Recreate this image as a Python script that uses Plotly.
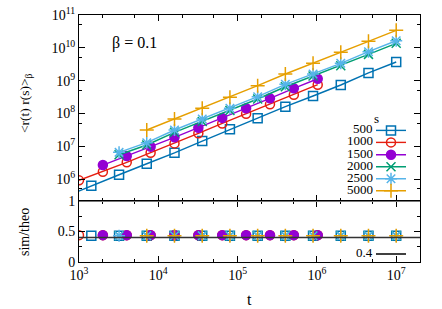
import plotly.graph_objects as go

# ---------------- data ----------------
t_a = [640, 1430, 3200, 7150, 16000, 35800, 80000, 179000, 400000, 894000, 2000000, 4470000, 10000000]
t_b = [1000, 2000, 4000, 8000, 16000, 32000, 64000, 128000, 256000, 512000, 1024000]

series_names = ["500", "1000", "1500", "2000", "2500", "5000"]

t_500 = t_a
y_500 = [2.8e5, 6.25e5, 1.35e6, 2.92e6, 6.3e6, 1.44e7, 3.27e7, 7.1e7, 1.6e8, 3.39e8, 7.35e8, 1.71e9, 3.69e9]
t_1000 = t_b
y_1000 = [9.1e5, 1.67e6, 3.23e6, 6.34e6, 1.22e7, 2.47e7, 4.95e7, 9.8e7, 1.89e8, 3.71e8, 7.5e8]
t_1500 = t_b[1:]
y_1500 = [2.67e6, 5.0e6, 9.7e6, 1.87e7, 3.66e7, 7.3e7, 1.43e8, 2.88e8, 5.8e8, 1.14e9]
t_2000 = t_a[2:]
y_2000 = [5.5e6, 1.09e7, 2.65e7, 5.7e7, 1.22e8, 2.75e8, 6.5e8, 1.38e9, 2.85e9, 6.3e9, 1.37e10]
t_2500 = t_a[2:]
y_2500 = [6.5e6, 1.28e7, 3.12e7, 6.75e7, 1.43e8, 3.23e8, 7.7e8, 1.59e9, 3.37e9, 7.6e9, 1.64e10]
t_5000 = t_a[3:]
y_5000 = [3.12e7, 6.75e7, 1.43e8, 3.1e8, 7.0e8, 1.59e9, 3.37e9, 7.3e9, 1.58e10, 3.42e10]

# ratio sim/theo (lower panel)
rt_500 = t_a[1:]
r_500 = [0.43, 0.43, 0.43, 0.43, 0.43, 0.43, 0.43, 0.43, 0.43, 0.43, 0.43, 0.43]
rt_1000 = t_b
r_1000 = [0.44, 0.44, 0.44, 0.44, 0.44, 0.44, 0.44, 0.44, 0.44, 0.44, 0.44]
rt_1500 = t_b[1:]
r_1500 = [0.44, 0.44, 0.44, 0.44, 0.44, 0.44, 0.44, 0.44, 0.44, 0.44]
rt_2000 = t_a[2:]
r_2000 = [0.43, 0.43, 0.43, 0.43, 0.43, 0.43, 0.43, 0.43, 0.43, 0.43, 0.43]
rt_2500 = t_a[2:]
r_2500 = [0.43, 0.43, 0.43, 0.43, 0.43, 0.43, 0.43, 0.43, 0.43, 0.43, 0.43]
rt_5000 = t_a[3:]
r_5000 = [0.43, 0.43, 0.43, 0.43, 0.43, 0.43, 0.43, 0.43, 0.43, 0.43]

ref_level = 0.4
unit_level = 1.0
beta_text = "β = 0.1"

x_tick_exps = [3, 4, 5, 6, 7]
y_tick_exps = [6, 7, 8, 9, 10, 11]
ratio_ticks = [0, 0.5, 1]
ratio_ticktext = ["0", "0.5", "1"]

# ---------------- styles ----------------
colors = ["#0072b2", "#e51e10", "#9400d3", "#009e73", "#56b4e9", "#e69f00"]
symbols = ["square-open", "circle-open", "circle", "x-thin-open", "asterisk-open", "cross-thin-open"]
msizes = [9, 9, 9, 9, 10, 10]
FONT = "Liberation Serif"

main = [(t_500, y_500), (t_1000, y_1000), (t_1500, y_1500),
        (t_2000, y_2000), (t_2500, y_2500), (t_5000, y_5000)]
ratio = [(rt_500, r_500), (rt_1000, r_1000), (rt_1500, r_1500),
         (rt_2000, r_2000), (rt_2500, r_2500), (rt_5000, r_5000)]

fig = go.Figure()

# canvas geometry (pixels of the 442x309 canvas)
L, R, T, B = 79, 22, 15, 47
W, H = 442 - L - R, 309 - T - B
def px(x):
    return (x - L) / W
def py(y):
    return 1 - (y - T) / H

legend_rows = [128.7, 140.7, 153.0, 165.0, 177.0, 189.0]
ref_row = 252.3
legend_shift = -1.7
legend_x = px(416)
label_x = px(375)

for i, ((tx, ty), c, sym, ms) in enumerate(zip(main, colors, symbols, msizes)):
    lg = "legend" if i == 0 else "legend%d" % (i + 1)
    fig.add_trace(go.Scatter(
        x=tx, y=ty, mode="lines+markers", name="",
        line=dict(color=c, width=1.4),
        marker=dict(symbol=sym, size=ms, color=c, line=dict(color=c, width=1.5)),
        xaxis="x", yaxis="y", legend=lg, showlegend=True))

for (tx, rv), c, sym, ms in zip(ratio, colors, symbols, msizes):
    fig.add_trace(go.Scatter(
        x=tx, y=rv, mode="markers", showlegend=False,
        marker=dict(symbol=sym, size=ms, color=c, line=dict(color=c, width=1.5)),
        xaxis="x2", yaxis="y2"))

# horizontal reference lines on the lower panel
fig.add_hline(y=unit_level, line=dict(color="#777777", width=2), xref="x2", yref="y2")
fig.add_hline(y=ref_level, line=dict(color="#333333", width=1.5), xref="x2", yref="y2")
# legend entry for the 0.4 line
fig.add_trace(go.Scatter(x=[None], y=[None], mode="lines", name="",
                         line=dict(color="black", width=1.5),
                         xaxis="x2", yaxis="y2", legend="legend7", showlegend=True))

legend_common = dict(bgcolor="rgba(0,0,0,0)", borderwidth=0, xanchor="right",
                     yanchor="middle", font=dict(family=FONT, size=12), itemwidth=30)
legends = {}
for i, yr in enumerate(legend_rows):
    key = "legend" if i == 0 else "legend%d" % (i + 1)
    legends[key] = dict(legend_common, x=legend_x, y=py(yr - legend_shift))
legends["legend7"] = dict(legend_common, x=legend_x, y=py(ref_row - legend_shift))

annotations = []
annotations.append(dict(text="s", x=px(376), y=py(118), xref="paper", yref="paper",
                        showarrow=False, xanchor="center", yanchor="middle",
                        font=dict(family=FONT, size=13)))
for name, yr in zip(series_names, legend_rows):
    annotations.append(dict(text=name, x=label_x, y=py(yr), xref="paper", yref="paper",
                            showarrow=False, xanchor="right", yanchor="middle",
                            font=dict(family=FONT, size=13)))
annotations.append(dict(text="%g" % ref_level, x=label_x, y=py(ref_row), xref="paper", yref="paper",
                        showarrow=False, xanchor="right", yanchor="middle",
                        font=dict(family=FONT, size=13)))
annotations.append(dict(text=beta_text, x=px(110), y=py(43), xref="paper", yref="paper",
                        showarrow=False, xanchor="left", yanchor="middle",
                        font=dict(family=FONT, size=16)))
annotations.append(dict(text="&lt;r(t) r(s)&gt;<sub>β</sub>", x=px(25), y=py(103),
                        xref="paper", yref="paper", textangle=-90, showarrow=False,
                        xanchor="center", yanchor="middle", font=dict(family=FONT, size=13.5)))
annotations.append(dict(text="sim/theo", x=px(24), y=py(232),
                        xref="paper", yref="paper", textangle=-90, showarrow=False,
                        xanchor="center", yanchor="middle", font=dict(family=FONT, size=14)))
annotations.append(dict(text="t", x=px(249), y=py(299),
                        xref="paper", yref="paper", showarrow=False,
                        xanchor="center", yanchor="middle", font=dict(family=FONT, size=16)))

top_dom = [py(201), 1.0]
bot_dom = [0.0, py(201)]

axis_common = dict(showline=True, linecolor="black", linewidth=1, mirror="allticks",
                   ticks="inside", ticklen=6, tickcolor="black", showgrid=False,
                   zeroline=False, automargin=False, tickfont=dict(family=FONT, size=14))

xlog = dict(axis_common, type="log", range=[3, 7.3], tickmode="array",
            tickvals=[10 ** e for e in x_tick_exps],
            ticktext=["10<sup>%d</sup>" % e for e in x_tick_exps],
            minor=dict(ticks="inside", ticklen=3, dtick="D2", showgrid=False, tickcolor="black"))

ymin_vals = [5 * 10 ** k for k in range(5, 11)]

fig.update_layout(
    width=442, height=309,
    margin=dict(l=L, r=R, t=T, b=B, autoexpand=False),
    paper_bgcolor="white", plot_bgcolor="white",
    font=dict(family=FONT, size=14, color="black"),
    xaxis=dict(xlog, anchor="y", domain=[0, 1], showticklabels=False, matches="x2"),
    xaxis2=dict(xlog, anchor="y2", domain=[0, 1]),
    yaxis=dict(axis_common, type="log", range=[5.33, 11], tickmode="array",
               tickvals=[10 ** e for e in y_tick_exps],
               ticktext=["10<sup>%d</sup>" % e for e in y_tick_exps],
               domain=top_dom, anchor="x",
               minor=dict(ticks="inside", ticklen=3, tickmode="array", tickvals=ymin_vals,
                          showgrid=False, tickcolor="black")),
    yaxis2=dict(axis_common, range=[0, 1], domain=bot_dom, anchor="x2",
                tickmode="array", tickvals=ratio_ticks, ticktext=ratio_ticktext,
                minor=dict(ticks="inside", ticklen=3, tickmode="array", tickvals=[0.25, 0.75],
                           showgrid=False, tickcolor="black")),
    annotations=annotations,
    **legends,
)

fig.write_html("out.html", config={"displayModeBar": False},
               post_script="document.body.style.margin='0';")
